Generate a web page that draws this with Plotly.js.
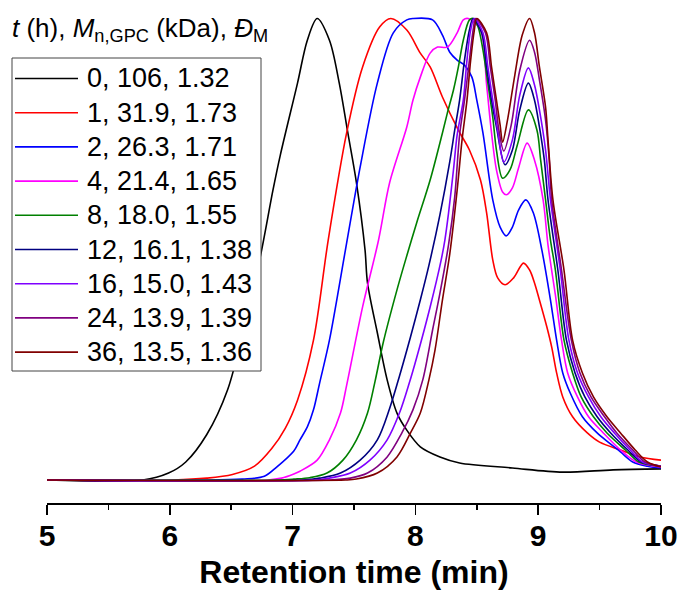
<!DOCTYPE html>
<html>
<head>
<meta charset="utf-8">
<script src="https://cdn.plot.ly/plotly-3.0.1.min.js"></script>
<style>html,body{margin:0;padding:0;background:#fff;}#chart{width:678px;height:593px;}</style>
</head>
<body>
<div id="chart"></div>
<script>
// Legend labels: t (h), Mn,GPC (kDa), DM
const seriesLabels = ["0, 106, 1.32","1, 31.9, 1.73","2, 26.3, 1.71","4, 21.4, 1.65","8, 18.0, 1.55","12, 16.1, 1.38","16, 15.0, 1.43","24, 13.9, 1.39","36, 13.5, 1.36"];
const xTickVals = [5, 6, 7, 8, 9, 10];

// Retention time (min) and normalized signal
const t0_x = [5.0, 5.78, 5.99, 6.13, 6.30, 6.47, 6.61, 6.74, 6.84, 6.90, 7.04, 7.12, 7.20, 7.30, 7.38, 7.45, 7.52, 7.59, 7.61, 7.69, 7.77, 7.85, 7.93, 8.04, 8.20, 8.36, 8.79, 9.20, 9.61, 10.0];
const t0_y = [0, 0, 0.015, 0.039, 0.098, 0.195, 0.336, 0.488, 0.628, 0.704, 0.860, 0.953, 1.0, 0.953, 0.860, 0.752, 0.644, 0.498, 0.427, 0.319, 0.217, 0.145, 0.108, 0.072, 0.050, 0.037, 0.026, 0.017, 0.022, 0.024];

const t1_x = [5.0, 6.03, 6.30, 6.51, 6.69, 6.83, 6.94, 7.04, 7.17, 7.29, 7.44, 7.57, 7.71, 7.80, 7.93, 8.04, 8.12, 8.22, 8.35, 8.44, 8.53, 8.58, 8.63, 8.67, 8.73, 8.80, 8.88, 8.93, 8.97, 9.01, 9.07, 9.11, 9.15, 9.20, 9.28, 9.40, 9.50, 9.67, 9.83, 10.0];
const t1_y = [0, 0, 0.004, 0.012, 0.030, 0.068, 0.112, 0.173, 0.303, 0.520, 0.752, 0.895, 0.982, 1.0, 0.975, 0.925, 0.895, 0.830, 0.758, 0.715, 0.650, 0.579, 0.477, 0.438, 0.423, 0.438, 0.470, 0.455, 0.427, 0.390, 0.332, 0.288, 0.232, 0.180, 0.137, 0.102, 0.082, 0.065, 0.050, 0.043];

const t2_x = [5.0, 6.59, 6.77, 6.87, 7.01, 7.06, 7.12, 7.17, 7.22, 7.30, 7.43, 7.55, 7.69, 7.82, 7.93, 7.98, 8.14, 8.22, 8.28, 8.34, 8.40, 8.46, 8.50, 8.55, 8.63, 8.69, 8.74, 8.79, 8.84, 8.90, 8.96, 9.03, 9.10, 9.15, 9.20, 9.26, 9.36, 9.48, 9.58, 9.67, 9.77, 9.89, 10.0];
const t2_y = [0, 0.002, 0.008, 0.028, 0.063, 0.087, 0.115, 0.152, 0.210, 0.303, 0.498, 0.678, 0.860, 0.969, 0.997, 1.0, 0.997, 0.964, 0.927, 0.910, 0.899, 0.873, 0.823, 0.752, 0.607, 0.548, 0.529, 0.548, 0.585, 0.607, 0.579, 0.498, 0.390, 0.303, 0.232, 0.189, 0.137, 0.102, 0.080, 0.061, 0.039, 0.030, 0.026];

const t4_x = [5.0, 6.80, 6.91, 7.01, 7.06, 7.20, 7.30, 7.39, 7.44, 7.57, 7.70, 7.79, 7.93, 7.98, 8.04, 8.12, 8.18, 8.26, 8.34, 8.39, 8.43, 8.53, 8.58, 8.62, 8.66, 8.71, 8.74, 8.79, 8.84, 8.91, 8.97, 9.04, 9.08, 9.14, 9.19, 9.24, 9.32, 9.41, 9.53, 9.67, 9.80, 10.0];
const t4_y = [0, 0, 0.004, 0.013, 0.019, 0.043, 0.087, 0.145, 0.205, 0.375, 0.520, 0.644, 0.765, 0.823, 0.873, 0.925, 0.938, 0.938, 0.969, 0.997, 1.0, 0.975, 0.856, 0.752, 0.672, 0.624, 0.618, 0.633, 0.676, 0.730, 0.693, 0.607, 0.509, 0.401, 0.303, 0.232, 0.180, 0.137, 0.102, 0.065, 0.039, 0.028];

const t8_x = [5.0, 6.87, 7.01, 7.14, 7.28, 7.41, 7.52, 7.61, 7.67, 7.74, 7.85, 7.92, 8.01, 8.12, 8.22, 8.26, 8.31, 8.35, 8.39, 8.44, 8.47, 8.51, 8.55, 8.59, 8.63, 8.66, 8.71, 8.77, 8.83, 8.92, 8.99, 9.02, 9.06, 9.10, 9.14, 9.21, 9.28, 9.35, 9.45, 9.56, 9.71, 9.82, 10.0];
const t8_y = [0, 0, 0.002, 0.005, 0.015, 0.043, 0.087, 0.145, 0.212, 0.300, 0.412, 0.477, 0.557, 0.650, 0.752, 0.795, 0.845, 0.895, 0.953, 0.997, 1.0, 0.982, 0.932, 0.860, 0.786, 0.715, 0.654, 0.672, 0.726, 0.802, 0.758, 0.693, 0.607, 0.520, 0.455, 0.303, 0.232, 0.180, 0.137, 0.102, 0.065, 0.039, 0.030];

const t12_x = [5.0, 7.08, 7.22, 7.39, 7.55, 7.69, 7.79, 7.87, 7.96, 8.04, 8.11, 8.20, 8.28, 8.32, 8.36, 8.40, 8.44, 8.47, 8.54, 8.58, 8.62, 8.66, 8.73, 8.79, 8.85, 8.92, 8.97, 9.01, 9.05, 9.08, 9.16, 9.23, 9.30, 9.38, 9.48, 9.59, 9.73, 9.84, 10.0];
const t12_y = [0, 0, 0.004, 0.015, 0.043, 0.087, 0.155, 0.225, 0.310, 0.390, 0.465, 0.575, 0.690, 0.758, 0.823, 0.910, 0.975, 1.0, 0.969, 0.895, 0.823, 0.765, 0.683, 0.715, 0.802, 0.860, 0.823, 0.765, 0.693, 0.607, 0.455, 0.303, 0.232, 0.180, 0.137, 0.102, 0.065, 0.039, 0.030];

const t16_x = [5.0, 7.19, 7.30, 7.47, 7.63, 7.77, 7.87, 7.95, 8.01, 8.12, 8.21, 8.24, 8.27, 8.31, 8.34, 8.39, 8.42, 8.45, 8.48, 8.55, 8.59, 8.63, 8.67, 8.72, 8.79, 8.85, 8.92, 8.97, 9.01, 9.06, 9.10, 9.18, 9.25, 9.32, 9.41, 9.51, 9.62, 9.75, 9.85, 10.0];
const t16_y = [0, 0, 0.004, 0.015, 0.043, 0.087, 0.145, 0.210, 0.265, 0.375, 0.477, 0.520, 0.579, 0.672, 0.748, 0.823, 0.910, 0.975, 1.0, 0.969, 0.895, 0.823, 0.758, 0.689, 0.737, 0.834, 0.893, 0.856, 0.802, 0.715, 0.607, 0.455, 0.303, 0.232, 0.180, 0.137, 0.102, 0.065, 0.039, 0.030];

const t24_x = [5.0, 7.30, 7.47, 7.61, 7.77, 7.89, 7.98, 8.06, 8.14, 8.20, 8.27, 8.32, 8.36, 8.40, 8.44, 8.47, 8.49, 8.57, 8.61, 8.65, 8.68, 8.72, 8.78, 8.85, 8.93, 8.97, 9.01, 9.06, 9.09, 9.11, 9.19, 9.27, 9.34, 9.43, 9.54, 9.64, 9.77, 9.87, 10.0];
const t24_y = [0, 0, 0.004, 0.015, 0.050, 0.102, 0.152, 0.217, 0.325, 0.405, 0.510, 0.613, 0.748, 0.823, 0.910, 0.975, 1.0, 0.969, 0.895, 0.823, 0.758, 0.713, 0.769, 0.888, 0.953, 0.927, 0.867, 0.780, 0.693, 0.607, 0.455, 0.303, 0.232, 0.180, 0.137, 0.102, 0.065, 0.039, 0.030];

const t36_x = [5.0, 7.43, 7.52, 7.69, 7.85, 7.96, 8.04, 8.11, 8.16, 8.22, 8.28, 8.34, 8.38, 8.42, 8.45, 8.48, 8.50, 8.58, 8.62, 8.66, 8.69, 8.71, 8.75, 8.81, 8.87, 8.93, 8.97, 9.01, 9.06, 9.08, 9.12, 9.21, 9.28, 9.36, 9.45, 9.56, 9.67, 9.79, 9.89, 10.0];
const t36_y = [0, 0, 0.002, 0.015, 0.050, 0.102, 0.145, 0.217, 0.282, 0.390, 0.490, 0.628, 0.737, 0.823, 0.910, 0.975, 1.0, 0.969, 0.895, 0.823, 0.769, 0.732, 0.780, 0.878, 0.964, 1.0, 0.969, 0.895, 0.808, 0.737, 0.607, 0.455, 0.303, 0.232, 0.180, 0.137, 0.102, 0.065, 0.039, 0.028];

const seriesX = [t0_x, t1_x, t2_x, t4_x, t8_x, t12_x, t16_x, t24_x, t36_x];
const seriesY = [t0_y, t1_y, t2_y, t4_y, t8_y, t12_y, t16_y, t24_y, t36_y];
const seriesColors = ["#000000", "#ff0000", "#0000ff", "#ff00ff", "#008000", "#000080", "#7f00ff", "#800080", "#800000"];

const FONT = "Arial, 'Liberation Sans', Helvetica, sans-serif";

const traces = seriesX.map((xs, i) => ({
  x: xs, y: seriesY[i], type: "scatter", mode: "lines", name: seriesLabels[i],
  line: {color: seriesColors[i], width: 1.6, shape: "spline", smoothing: 0.9},
  hoverinfo: "skip", showlegend: false
}));

// Plot area: left 47px, right 661px, top 5px, bottom 503px
const W = 678, H = 593, L = 47, R = 17, T = 5, B = 90;
const pw = W - L - R, ph = H - T - B;
const px2paper = p => (p - L) / pw;
const py2paper = p => (H - B - p) / ph;

const shapes = [];
const annotations = [];
// legend box
shapes.push({type: "rect", xref: "paper", yref: "paper",
  x0: px2paper(12), x1: px2paper(261), y0: py2paper(371), y1: py2paper(58),
  line: {color: "#444444", width: 1}, fillcolor: "#ffffff", layer: "above"});
seriesLabels.forEach((lab, i) => {
  const yy = py2paper(78.5 + i * 34.2);
  shapes.push({type: "line", xref: "paper", yref: "paper",
    x0: px2paper(15), x1: px2paper(78), y0: yy, y1: yy,
    line: {color: seriesColors[i], width: 1.6}, layer: "above"});
  annotations.push({xref: "paper", yref: "paper", x: px2paper(85), y: yy,
    xanchor: "left", yanchor: "middle", showarrow: false, text: lab,
    font: {family: FONT, size: 27, color: "#000"}});
});
annotations.push({xref: "paper", yref: "paper", x: px2paper(10), y: py2paper(30),
  xanchor: "left", yanchor: "middle", showarrow: false,
  text: "<i>t</i> (h), <i>M</i><sub>n,GPC</sub> (kDa), <i>Đ</i><sub>M</sub>",
  font: {family: FONT, size: 26, color: "#000"}});

const y0 = 480, y1 = 18.5; // pixel positions of 0 and 1
const perUnit = (y0 - y1);
const layout = {
  width: W, height: H,
  margin: {l: L, r: R, t: T, b: B},
  paper_bgcolor: "#ffffff", plot_bgcolor: "#ffffff",
  showlegend: false,
  xaxis: {
    range: [5, 10], tickvals: xTickVals, ticktext: xTickVals.map(String),
    showline: true, linecolor: "#000", linewidth: 1.5, mirror: false,
    ticks: "outside", ticklen: 10, tickwidth: 1.5, tickcolor: "#000",
    ticklabelstandoff: -5,
    minor: {dtick: 0.5, ticks: "outside", ticklen: 5, tickwidth: 1.5, tickcolor: "#000"},
    showgrid: false, zeroline: false,
    tickfont: {family: FONT, size: 30, color: "#000", weight: 700},
    title: {text: "Retention time (min)", font: {family: FONT, size: 32, color: "#000", weight: 700}, standoff: 10}
  },
  yaxis: {
    range: [-(H - B - y0) / perUnit, (y0 - T) / perUnit],
    visible: false, showgrid: false, zeroline: false
  },
  shapes: shapes, annotations: annotations
};

Plotly.newPlot("chart", traces, layout, {displayModeBar: false, staticPlot: true});
</script>
</body>
</html>
